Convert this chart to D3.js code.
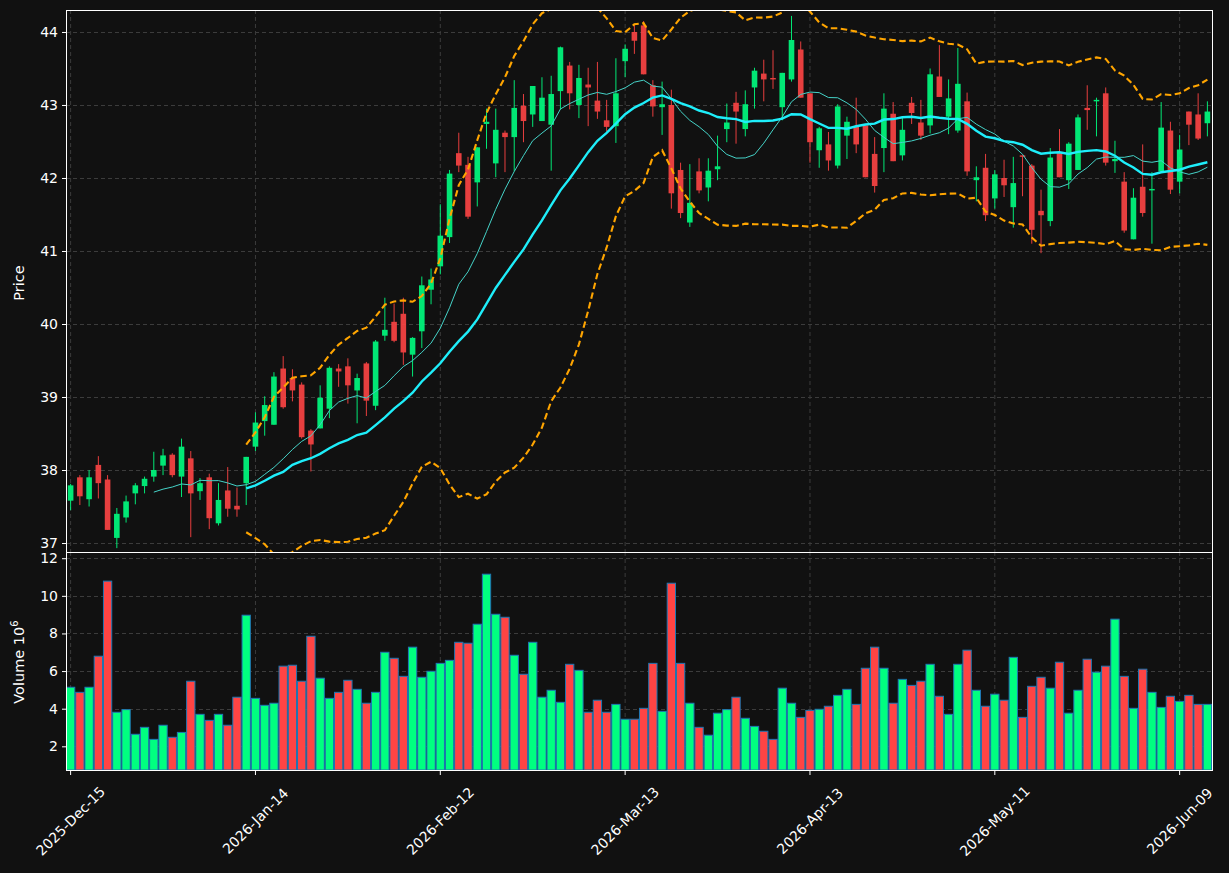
<!DOCTYPE html>
<html>
<head>
<meta charset="utf-8">
<script src="https://cdn.jsdelivr.net/npm/d3@7"></script>
<style>
  html, body { margin: 0; background: #111111; }
  svg { display: block; font-family: "DejaVu Sans", sans-serif; }
</style>
</head>
<body>
<svg id="chart" width="1229" height="873"></svg>
<script>
// trading days (x categories)
const dates = [
  "2025-12-15","2025-12-16","2025-12-17","2025-12-18","2025-12-19","2025-12-22","2025-12-23","2025-12-24","2025-12-26","2025-12-29",
  "2025-12-30","2025-12-31","2026-01-02","2026-01-05","2026-01-06","2026-01-07","2026-01-08","2026-01-09","2026-01-12","2026-01-13",
  "2026-01-14","2026-01-15","2026-01-16","2026-01-20","2026-01-21","2026-01-22","2026-01-23","2026-01-26","2026-01-27","2026-01-28",
  "2026-01-29","2026-01-30","2026-02-02","2026-02-03","2026-02-04","2026-02-05","2026-02-06","2026-02-09","2026-02-10","2026-02-11",
  "2026-02-12","2026-02-13","2026-02-17","2026-02-18","2026-02-19","2026-02-20","2026-02-23","2026-02-24","2026-02-25","2026-02-26",
  "2026-02-27","2026-03-02","2026-03-03","2026-03-04","2026-03-05","2026-03-06","2026-03-09","2026-03-10","2026-03-11","2026-03-12",
  "2026-03-13","2026-03-16","2026-03-17","2026-03-18","2026-03-19","2026-03-20","2026-03-23","2026-03-24","2026-03-25","2026-03-26",
  "2026-03-27","2026-03-30","2026-03-31","2026-04-01","2026-04-02","2026-04-06","2026-04-07","2026-04-08","2026-04-09","2026-04-10",
  "2026-04-13","2026-04-14","2026-04-15","2026-04-16","2026-04-17","2026-04-20","2026-04-21","2026-04-22","2026-04-23","2026-04-24",
  "2026-04-27","2026-04-28","2026-04-29","2026-04-30","2026-05-01","2026-05-04","2026-05-05","2026-05-06","2026-05-07","2026-05-08",
  "2026-05-11","2026-05-12","2026-05-13","2026-05-14","2026-05-15","2026-05-18","2026-05-19","2026-05-20","2026-05-21","2026-05-22",
  "2026-05-26","2026-05-27","2026-05-28","2026-05-29","2026-06-01","2026-06-02","2026-06-03","2026-06-04","2026-06-05","2026-06-08",
  "2026-06-09","2026-06-10","2026-06-11","2026-06-12"
];

const open = [
  37.58,37.90,37.60,38.07,37.87,37.07,37.35,37.68,37.78,37.91, 38.06,38.21,37.91,38.16,37.71,37.90,37.27,37.72,37.51,37.82,
  38.32,38.67,38.62,39.39,39.26,39.17,38.54,38.57,38.84,39.39, 39.42,39.09,39.46,38.88,39.84,40.03,40.14,39.58,39.90,40.47,
  40.79,41.19,42.34,42.18,41.94,42.74,42.20,42.62,42.56,42.99, 42.87,42.78,42.73,43.19,43.54,43.00,43.28,43.06,42.79,42.71,
  43.60,44.00,44.09,43.27,42.97,43.00,42.11,41.39,42.09,41.87, 42.12,42.67,43.03,42.67,43.24,43.43,43.37,42.97,43.35,43.76,
  43.16,42.38,42.46,42.17,42.58,42.71,42.72,42.33,42.41,42.88, 42.31,43.03,42.76,42.72,43.39,42.84,42.65,43.05,41.97,42.14,
  41.72,42.00,41.60,42.31,42.17,41.55,41.41,42.34,41.97,42.11, 42.96,43.05,43.16,42.23,41.95,41.16,41.88,41.83,42.09,42.65,
  41.95,42.91,42.87,42.75
];
const high = [
  37.81,37.93,38.00,38.19,37.93,37.48,37.65,37.82,37.91,38.25, 38.29,38.23,38.43,38.26,37.89,37.95,37.82,38.04,37.76,38.18,
  38.79,39.01,39.34,39.56,39.38,39.20,38.56,39.16,39.42,39.45, 39.53,39.32,39.48,39.78,40.36,40.28,40.36,39.82,40.65,40.76,
  41.64,42.11,42.62,42.29,42.42,42.95,42.95,42.65,43.34,43.15, 43.26,43.38,43.40,43.80,43.59,43.55,43.51,43.59,43.07,43.64,
  43.83,44.10,44.15,43.34,43.32,43.21,42.21,42.19,42.27,42.27, 42.58,43.02,43.18,43.20,43.51,43.62,43.75,43.44,44.22,43.87,
  43.16,42.70,42.63,43.01,42.84,43.10,42.72,42.56,43.16,43.04, 42.84,43.11,43.07,43.50,43.82,43.35,43.78,43.17,42.16,42.33,
  42.11,42.25,42.29,42.31,42.19,41.84,42.41,42.67,42.49,42.87, 43.27,43.10,43.24,42.51,42.08,41.86,42.46,42.08,43.04,42.77,
  42.59,42.91,43.16,43.05
];
const low = [
  37.45,37.52,37.50,37.61,37.18,36.93,37.28,37.53,37.68,37.84, 37.93,37.90,37.63,37.08,37.59,37.19,37.24,37.36,37.36,37.52,
  38.26,38.47,38.62,38.84,38.94,38.43,37.98,38.57,38.71,39.14, 38.91,38.64,38.74,38.82,39.77,39.75,39.44,39.28,39.67,40.27,
  40.68,41.11,42.08,41.44,41.61,42.40,42.01,42.08,42.09,42.49, 42.70,42.78,42.10,42.94,42.94,42.82,42.71,42.81,42.64,42.48,
  43.38,43.70,43.42,42.84,42.59,41.58,41.45,41.33,41.79,41.68, 41.97,42.49,42.47,42.57,42.95,43.05,43.22,42.79,43.32,43.10,
  42.21,42.14,42.10,42.13,42.26,42.34,42.01,41.80,42.08,42.23, 42.24,42.74,42.52,42.61,43.11,42.60,42.62,42.03,41.68,41.41,
  41.58,41.74,41.32,41.75,41.10,40.97,41.34,42.01,41.85,42.11, 42.66,42.57,42.17,42.07,41.25,41.16,41.47,41.10,42.09,41.78,
  41.79,42.45,42.52,42.57
];
const close = [
  37.79,37.64,37.90,37.82,37.18,37.40,37.57,37.79,37.88,38.00, 38.20,37.93,38.32,37.68,37.82,37.34,37.59,37.47,37.46,38.18,
  38.65,38.89,39.28,38.86,39.09,38.45,38.35,38.99,39.40,39.35, 39.16,39.26,38.95,39.76,39.92,39.77,39.61,39.81,40.53,40.61,
  41.21,42.06,42.17,41.47,42.42,42.77,42.66,42.56,42.96,42.78, 43.26,43.10,43.15,43.79,43.16,43.37,43.24,42.91,42.70,43.16,
  43.77,43.88,43.42,42.98,43.01,41.79,41.52,41.66,41.83,42.10, 42.16,42.76,42.91,43.01,43.47,43.35,43.35,43.44,43.89,43.10,
  42.49,42.68,42.24,42.98,42.77,42.46,42.01,41.89,42.95,42.23, 42.66,42.89,42.58,43.42,43.11,43.09,43.29,42.09,42.01,41.49,
  42.05,41.90,41.93,42.29,41.29,41.49,42.28,42.01,42.47,42.83, 42.93,43.07,42.21,42.26,41.28,41.73,41.52,41.85,42.69,41.84,
  42.39,42.73,42.54,42.91
];
// volume in millions
const volume = [
  5.14,4.87,5.14,6.79,10.78,3.81,3.95,2.64,3.01,2.37, 3.12,2.48,2.74,5.46,3.70,3.38,3.70,3.12,4.61,8.97,
  4.55,4.18,4.29,6.26,6.31,5.46,7.85,5.62,4.55,4.87, 5.51,5.03,4.29,4.87,7.00,6.68,5.72,7.27,5.67,5.99,
  6.41,6.57,7.53,7.48,8.49,11.15,9.02,8.86,6.84,5.83, 7.53,4.61,4.98,4.34,6.36,6.04,3.81,4.45,3.81,4.23,
  3.44,3.44,4.02,6.41,3.86,10.67,6.41,4.29,3.01,2.59, 3.76,3.95,4.61,3.49,3.06,2.80,2.37,5.09,4.29,3.54,
  3.91,3.97,4.13,4.71,5.03,4.23,6.15,7.27,6.15,4.29, 5.56,5.24,5.46,6.36,4.66,3.70,6.36,7.11,4.98,4.13,
  4.77,4.45,6.73,3.54,5.19,5.67,5.09,6.47,3.76,4.98, 6.63,5.94,6.26,8.76,5.72,4.02,6.10,4.87,4.07,4.66,
  4.39,4.71,4.23,4.23
];

const priceTicks = [37, 38, 39, 40, 41, 42, 43, 44];
const volumeTicks = [2, 4, 6, 8, 10, 12];
const xTickDates = ["2025-12-15","2026-01-14","2026-02-12","2026-03-13","2026-04-13","2026-05-11","2026-06-09"];

const upColor = "#00ff80", downColor = "#ff4444";
const fg = "#ffffff";

const svg = d3.select("#chart");
const left = 66, right = 1212;
const pTop = 10, pBottom = 552, vTop = 552, vBottom = 770;

const rows = dates.map((d, i) => ({ d, o: open[i], h: high[i], l: low[i], c: close[i], v: volume[i] }));

const x = d3.scaleBand().domain(dates).range([left, right]).padding(0);
const cx = d => x(d) + x.bandwidth() / 2;
const y = d3.scaleLinear().domain([36.877, 44.301]).range([pBottom, pTop]);
const yv = d3.scaleLinear().domain([0.741, 12.33]).range([vBottom, vTop]);

// rolling indicators from close
function rolling(n, fn) {
  return close.map((c, i) => i < n - 1 ? null : fn(close.slice(i - n + 1, i + 1)));
}
const sma10 = rolling(10, d3.mean);
const sma20 = rolling(20, d3.mean);
const sd20 = rolling(20, d3.deviation);
const bbUp = sma20.map((m, i) => m === null ? null : m + 2 * sd20[i]);
const bbLo = sma20.map((m, i) => m === null ? null : m - 2 * sd20[i]);

svg.append("rect").attr("width", 1229).attr("height", 873).attr("fill", "#111111");

const defs = svg.append("defs");
defs.append("clipPath").attr("id", "clipP").append("rect")
  .attr("x", left).attr("y", pTop).attr("width", right - left).attr("height", pBottom - pTop);

// grids
function grid(g, ys, sc, y0, y1) {
  g.selectAll("line.h").data(ys).join("line")
    .attr("x1", left).attr("x2", right)
    .attr("y1", d => Math.round(sc(d)) + 0.5).attr("y2", d => Math.round(sc(d)) + 0.5)
    .attr("stroke", "#3c3c3c").attr("stroke-dasharray", "4,3").attr("stroke-width", 1);
  g.selectAll("line.v").data(xTickDates).join("line").attr("class", "v")
    .attr("x1", d => cx(d)).attr("x2", d => cx(d))
    .attr("y1", y0).attr("y2", y1)
    .attr("stroke", "#3c3c3c").attr("stroke-dasharray", "4,3").attr("stroke-width", 1);
}
grid(svg.append("g"), priceTicks, y, pTop, pBottom);
grid(svg.append("g"), volumeTicks, yv, vTop, vBottom);

// candles
const bodyW = 5.6;
const candles = svg.append("g").attr("clip-path", "url(#clipP)").attr("opacity", 0.9);
candles.selectAll("line").data(rows).join("line")
  .attr("x1", d => cx(d.d)).attr("x2", d => cx(d.d))
  .attr("y1", d => y(d.h)).attr("y2", d => y(d.l))
  .attr("stroke", d => d.c >= d.o ? upColor : downColor).attr("stroke-width", 1);
candles.selectAll("rect").data(rows).join("rect")
  .attr("x", d => cx(d.d) - bodyW / 2).attr("width", bodyW)
  .attr("y", d => y(Math.max(d.o, d.c)))
  .attr("height", d => Math.max(1, Math.abs(y(d.o) - y(d.c))))
  .attr("fill", d => d.c >= d.o ? upColor : downColor);

// indicator lines
const lines = svg.append("g").attr("clip-path", "url(#clipP)").attr("fill", "none");
const mk = arr => d3.line().defined((d, i) => arr[i] !== null).x(d => cx(d)).y((d, i) => y(arr[i]));
lines.append("path").attr("d", mk(bbUp)(dates)).attr("stroke", "#ffa500").attr("stroke-width", 2.1).attr("stroke-dasharray", "6.5,3.5");
lines.append("path").attr("d", mk(bbLo)(dates)).attr("stroke", "#ffa500").attr("stroke-width", 2.1).attr("stroke-dasharray", "6.5,3.5");
lines.append("path").attr("d", mk(sma10)(dates)).attr("stroke", "#45d3c8").attr("stroke-width", 1);
lines.append("path").attr("d", mk(sma20)(dates)).attr("stroke", "#1eeefa").attr("stroke-width", 2.4);

// volume bars
const barW = 8.3;
svg.append("g").selectAll("rect").data(rows).join("rect")
  .attr("x", d => cx(d.d) - barW / 2).attr("width", barW)
  .attr("y", d => yv(d.v)).attr("height", d => vBottom - yv(d.v))
  .attr("fill", d => d.c >= d.o ? upColor : downColor)
  .attr("stroke", "#1f77b4").attr("stroke-width", 1);

// frames
const fr = svg.append("g").attr("fill", "none").attr("stroke", fg).attr("stroke-width", 1);
fr.append("rect").attr("x", left + 0.5).attr("y", pTop + 0.5).attr("width", right - left).attr("height", vBottom - pTop);
fr.append("line").attr("x1", left).attr("x2", right + 1).attr("y1", pBottom + 0.5).attr("y2", pBottom + 0.5);

// axes
function styleAxis(g) {
  g.select(".domain").remove();
  g.selectAll(".tick line").attr("stroke", fg);
  g.selectAll(".tick text").attr("fill", fg).attr("font-size", 14).attr("font-family", "DejaVu Sans");
}
svg.append("g").attr("transform", `translate(${left},0)`)
  .call(d3.axisLeft(y).tickValues(priceTicks).tickSize(4).tickPadding(4).tickFormat(d3.format("d")))
  .call(styleAxis);
svg.append("g").attr("transform", `translate(${left},0)`)
  .call(d3.axisLeft(yv).tickValues(volumeTicks).tickSize(4).tickPadding(4).tickFormat(d3.format("d")))
  .call(styleAxis);

const fmt = d3.timeFormat("%Y-%b-%d"), parse = d3.timeParse("%Y-%m-%d");
const xa = svg.append("g").attr("transform", `translate(0,${vBottom + 1})`)
  .call(d3.axisBottom(x).tickValues(xTickDates).tickSize(4).tickFormat(d => fmt(parse(d))))
  .call(styleAxis);
xa.selectAll(".tick text")
  .attr("y", 0).attr("dy", "0.35em").attr("text-anchor", "middle")
  .attr("transform", "translate(0,50) rotate(-45)");

// axis titles
svg.append("text").attr("transform", "translate(24,283) rotate(-90)")
  .attr("text-anchor", "middle").attr("fill", fg).attr("font-size", 14.5).text("Price");
const vl = svg.append("text").attr("transform", "translate(24,662) rotate(-90)")
  .attr("text-anchor", "middle").attr("fill", fg).attr("font-size", 14.5);
vl.append("tspan").text("Volume  10");
vl.append("tspan").attr("font-size", 10).attr("dy", -6).text("6");
</script>
</body>
</html>
